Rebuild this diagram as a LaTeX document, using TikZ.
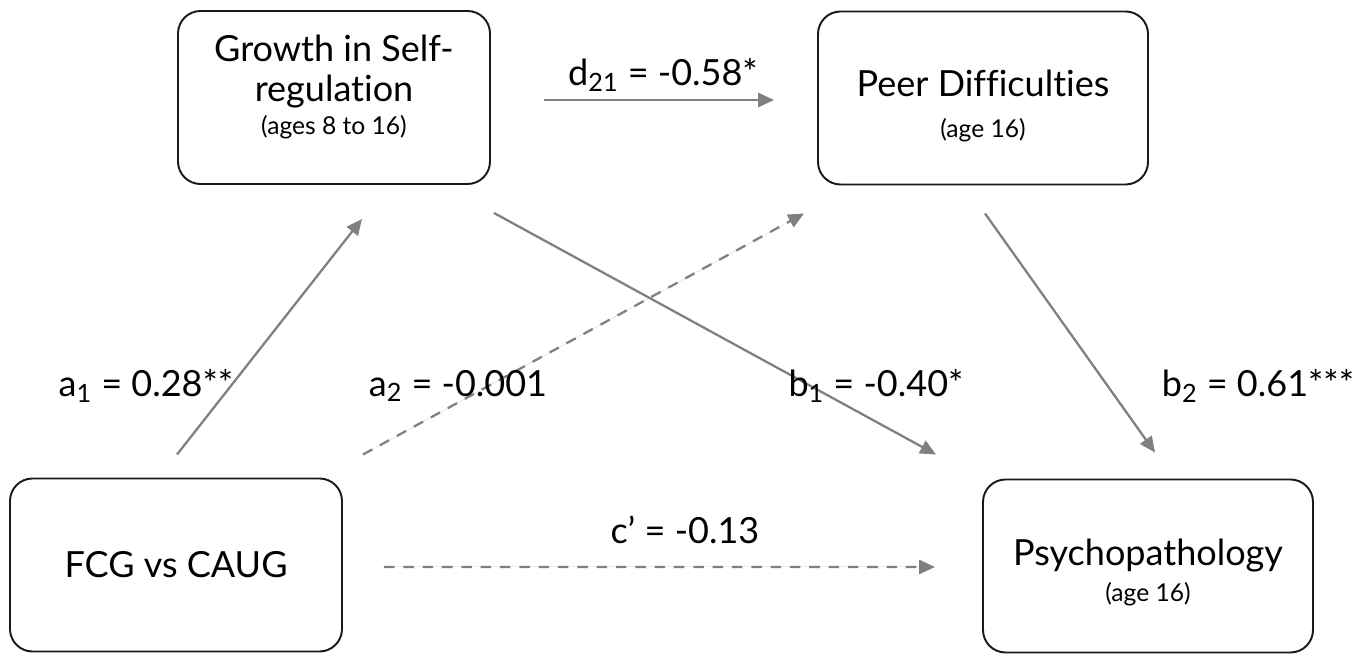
\documentclass[tikz,border=0pt]{standalone}
\usepackage{fontspec}
\setmainfont{Lato}[Ligatures=NoCommon]
\usetikzlibrary{arrows.meta}
\newcommand{\agefont}{\fontsize{14}{16}\selectfont}

\begin{document}
\begin{tikzpicture}[>={Triangle[length=9pt,width=8pt]},
  box/.style={draw=black!90,rounded corners=0.45cm,line width=1.1pt,minimum width=6.6cm,minimum height=3.46cm,align=center,font=\fontsize{20.5}{24}\selectfont},
  link/.style={->,draw=gray,fill=gray,line width=1.3pt},
  coef/.style={font=\fontsize{20.5}{24}\selectfont}]
  \useasboundingbox (0,0) rectangle (27.3,13.08);

  % boxes
  \node[box,minimum width=6.24cm] (growth) at (6.68,11.13) {Growth in Self-\\[-1.4pt]regulation\\[-5.5pt]{\agefont (ages 8 to 16)}\\[-9.4pt]\mbox{}};
  \node[box] (peer) at (19.66,11.12) {\mbox{}\\[0.4pt]Peer Difficulties\\[-0.8pt]{\agefont (age 16)}};
  \node[box,minimum width=6.64cm] (fcg) at (3.52,1.78) {FCG vs CAUG};
  \node[box] (psych) at (22.96,1.76) {\mbox{}\\[-1.8pt]Psychopathology\\[-3.6pt]{\agefont (age 16)}};

  % paths
  \draw[link] ([shift={(0.02,0.46)}]fcg.north) -- ([shift={(0.56,-0.68)}]growth.south);
  \draw[link,dash pattern=on 6pt off 5pt] ([shift={(0.4,0.46)}]fcg.north east) -- ([shift={(-0.26,-0.56)}]peer.south west);
  \draw[link] ([shift={(0.06,-0.56)}]growth.south east) -- ([shift={(-0.92,0.48)}]psych.north west);
  \draw[link] ([shift={(0.04,-0.56)}]peer.south) -- ([shift={(0.14,0.52)}]psych.north);
  \draw[link] ([shift={(1.06,-0.05)}]growth.east) -- ([shift={(-0.86,-0.04)}]peer.west);
  \draw[link,dash pattern=on 6pt off 5pt] ([shift={(0.82,-0.04)}]fcg.east) -- ([shift={(-0.94,-0.02)}]psych.west);

  % coefficients
  \node[coef] (d21) at (13.26,11.58) {d\textsubscript{21} = -0.58*};
  \node[coef] (a1) at (2.92,5.36) {a\textsubscript{1} = 0.28**};
  \node[coef] (a2) at (9.16,5.36) {a\textsubscript{2} = -0.001};
  \node[coef] (b1) at (17.52,5.36) {b\textsubscript{1} = -0.40*};
  \node[coef] (b2) at (25.16,5.36) {b\textsubscript{2} = 0.61***};
  \node[coef] (c) at (13.7,2.48) {c’ = -0.13};
\end{tikzpicture}
\end{document}
